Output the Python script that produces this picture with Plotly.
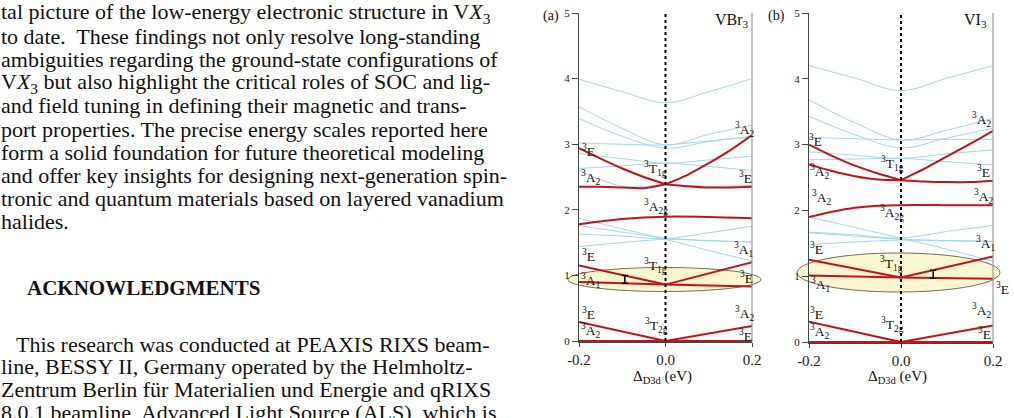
import plotly.graph_objects as go

W, H = 1014, 418

# ---------------- data ----------------
XS5 = [-0.2, -0.1, 0.0, 0.1, 0.2]
XL = [-0.2, -0.15, -0.1, -0.05, 0.0]
XR = [0.0, 0.05, 0.1, 0.15, 0.2]
X2L = [-0.2, 0.0]
X2R = [0.0, 0.2]
X2 = [-0.2, 0.2]
XA2G_B = [-0.2, -0.15, -0.1, -0.05, 0.0, 0.1, 0.2]

# VBr3 (panel a) red branches
vbr_ground = [0.0, 0.0]
vbr_t2g_left = [0.29, 0.0]
vbr_t2g_right = [0.0, 0.23]
vbr_t1g_left_E = [1.15, 0.86]
vbr_t1g_left_A1 = [0.90, 0.86]
vbr_t1g_right_A2 = [0.86, 1.20]
vbr_t1g_right_E = [0.86, 0.83]
vbr_a2g = [1.78, 1.86, 1.895, 1.89, 1.87]
vbr_t1g2_left_E = [2.94, 2.78, 2.63, 2.50, 2.39]
vbr_t1g2_left_A2 = [2.35, 2.35, 2.34, 2.33, 2.39]
vbr_t1g2_right_A2 = [2.39, 2.53, 2.71, 2.91, 3.14]
vbr_t1g2_right_E = [2.39, 2.36, 2.34, 2.34, 2.35]
# VBr3 other (light blue) levels
vbr_blue = [
    [3.99, 3.80, 3.63, 3.80, 4.00],
    [3.57, 3.24, 2.99, 3.15, 3.29],
    [3.39, 3.12, 2.94, 3.04, 3.12],
    [3.02, 3.00, 2.99, 3.05, 3.11],
    [2.86, 2.78, 2.71, 2.76, 2.82],
    [2.63, 2.67, 2.71, 2.66, 2.60],
    [2.60, 2.36, 2.38, 2.36, 2.37],
    [1.87, 1.71, 1.55, 1.38, 1.22],
    [1.76, 1.66, 1.57, 1.53, 1.51],
    [1.63, 1.60, 1.56, 1.65, 1.75],
    [1.44, 1.50, 1.55, 1.53, 1.51],
]
vbr_bar_x = -0.094
vbr_bar_lo, vbr_bar_hi = 0.88, 1.00

# VI3 (panel b) red branches
vi_ground = [0.0, 0.0]
vi_t2g_left = [0.31, 0.0]
vi_t2g_right = [0.0, 0.25]
vi_t1g_left_E = [1.25, 0.98]
vi_t1g_left_A1 = [1.01, 0.98]
vi_t1g_right_up = [0.98, 1.30]
vi_t1g_right_low = [0.98, 0.96]
vi_a2g = [1.90, 1.98, 2.04, 2.07, 2.08, 2.08, 2.08]
vi_t1g2_left_E = [3.00, 2.83, 2.68, 2.56, 2.46]
vi_t1g2_left_A2 = [2.70, 2.60, 2.52, 2.47, 2.46]
vi_t1g2_right_up = [2.46, 2.63, 2.82, 3.01, 3.21]
vi_t1g2_right_low = [2.46, 2.44, 2.43, 2.43, 2.45]
vi_blue = [
    [4.20, 4.01, 3.82, 4.01, 4.20],
    [3.68, 3.33, 3.07, 3.22, 3.40],
    [3.43, 3.15, 2.95, 3.10, 3.25],
    [3.11, 3.09, 3.07, 3.08, 3.08],
    [2.89, 2.84, 2.79, 2.86, 2.92],
    [2.77, 2.78, 2.79, 2.74, 2.69],
    [1.90, 1.74, 1.58, 1.41, 1.23],
    [1.67, 1.63, 1.58, 1.68, 1.77],
    [1.48, 1.52, 1.55, 1.54, 1.53],
    [1.66, 1.61, 1.56, 1.54, 1.53],
]
vi_bar_x = 0.07
vi_bar_lo, vi_bar_hi = 0.97, 1.09

x_tickvals = [-0.2, 0.0, 0.2]
x_ticktext = ["-0.2", "0.0", "0.2"]
y_tickvals = [0, 1, 2, 3, 4, 5]

body_lines_top = [
    "tal picture of the low-energy electronic structure in V<i>X</i><sub>3</sub>",
    "to date.  These findings not only resolve long-standing",
    "ambiguities regarding the ground-state configurations of",
    "V<i>X</i><sub>3</sub> but also highlight the critical roles of SOC and lig-",
    "and field tuning in defining their magnetic and trans-",
    "port properties. The precise energy scales reported here",
    "form a solid foundation for future theoretical modeling",
    "and offer key insights for designing next-generation spin-",
    "tronic and quantum materials based on layered vanadium",
    "halides.",
]
ack_title = "ACKNOWLEDGMENTS"
body_lines_ack = [
    "This research was conducted at PEAXIS RIXS beam-",
    "line, BESSY II, Germany operated by the Helmholtz-",
    "Zentrum Berlin für Materialien und Energie and qRIXS",
    "8.0.1 beamline, Advanced Light Source (ALS), which is",
]

# ---------------- style ----------------
RED = "#c0141c"
BLUE = "#a3d6e6"
SERIF = "Liberation Serif"
AX = "#444444"


def px(xp):
    return xp / W


def py(yp):
    return 1 - yp / H


fig = go.Figure()


def red(x, y, ax):
    fig.add_trace(go.Scatter(x=x, y=y, mode="lines", xaxis=ax[0], yaxis=ax[1],
                             line=dict(color=RED, width=2, shape="spline", smoothing=0.8),
                             hoverinfo="skip", showlegend=False))


def blue(x, y, ax):
    fig.add_trace(go.Scatter(x=x, y=y, mode="lines", xaxis=ax[0], yaxis=ax[1],
                             line=dict(color=BLUE, width=1, shape="spline", smoothing=1.0),
                             hoverinfo="skip", showlegend=False))


A = ("x", "y")
B = ("x2", "y2")

for ys in vbr_blue:
    blue(XS5, ys, A)
for ys in vi_blue:
    blue(XS5, ys, B)

red(X2, vbr_ground, A)
red(X2L, vbr_t2g_left, A)
red(X2R, vbr_t2g_right, A)
red(X2L, vbr_t1g_left_E, A)
red(X2L, vbr_t1g_left_A1, A)
red(X2R, vbr_t1g_right_A2, A)
red(X2R, vbr_t1g_right_E, A)
red(XS5, vbr_a2g, A)
red(XL, vbr_t1g2_left_E, A)
red(XL, vbr_t1g2_left_A2, A)
red(XR, vbr_t1g2_right_A2, A)
red(XR, vbr_t1g2_right_E, A)

red(X2, vi_ground, B)
red(X2L, vi_t2g_left, B)
red(X2R, vi_t2g_right, B)
red(X2L, vi_t1g_left_E, B)
red(X2L, vi_t1g_left_A1, B)
red(X2R, vi_t1g_right_up, B)
red(X2R, vi_t1g_right_low, B)
red(XA2G_B, vi_a2g, B)
red(XL, vi_t1g2_left_E, B)
red(XL, vi_t1g2_left_A2, B)
red(XR, vi_t1g2_right_up, B)
red(XR, vi_t1g2_right_low, B)

# dotted line at zero
for ax in (A, B):
    fig.add_trace(go.Scatter(x=[0, 0], y=[0, 5], mode="lines", xaxis=ax[0], yaxis=ax[1],
                             line=dict(color="black", width=2, dash="3px,3px"),
                             hoverinfo="skip", showlegend=False))

# splitting bars
for (bx, lo, hi), ax in (((vbr_bar_x, vbr_bar_lo, vbr_bar_hi), A), ((vi_bar_x, vi_bar_lo, vi_bar_hi), B)):
    mid = (lo + hi) / 2
    fig.add_trace(go.Scatter(x=[bx], y=[mid], mode="markers", xaxis=ax[0], yaxis=ax[1],
                             marker=dict(size=1, color="rgba(0,0,0,0)"),
                             error_y=dict(type="data", array=[hi - mid], color="black",
                                          thickness=1.5, width=3),
                             hoverinfo="skip", showlegend=False))

# ---------------- layout ----------------
PA = dict(x0=579, x1=752, yb=342, yt=13)
PB = dict(x0=809, x1=993, yb=343, yt=13)
YR = [-0.015, 5.0]

axcommon_x = dict(range=[-0.2, 0.2], showline=True, linecolor=AX, linewidth=1, ticks="outside",
                  ticklen=4, tickcolor=AX, tickvals=x_tickvals, ticktext=x_ticktext,
                  tickfont=dict(family=SERIF, size=15, color="#222"), showgrid=False,
                  zeroline=False, fixedrange=True)
axcommon_y = dict(range=YR, showline=True, linecolor=AX, linewidth=1, ticks="outside",
                  ticklen=6, tickcolor=AX, tickvals=y_tickvals,
                  tickfont=dict(family=SERIF, size=11, color="#222"), showgrid=False,
                  zeroline=False, fixedrange=True)

fig.update_layout(
    width=W, height=H, autosize=False,
    margin=dict(l=0, r=0, t=0, b=0, pad=0, autoexpand=False),
    paper_bgcolor="white", plot_bgcolor="rgba(0,0,0,0)",
    xaxis=dict(domain=[px(PA["x0"]), px(PA["x1"])], anchor="y", automargin=False, **axcommon_x),
    yaxis=dict(domain=[py(PA["yb"]), py(PA["yt"])], anchor="x", automargin=False, **axcommon_y),
    xaxis2=dict(domain=[px(PB["x0"]), px(PB["x1"])], anchor="y2", automargin=False, **axcommon_x),
    yaxis2=dict(domain=[py(PB["yb"]), py(PB["yt"])], anchor="x2", automargin=False, **axcommon_y),
)

shapes = []
for (ex0, ex1, ey0, ey1) in ((568, 761, 267.5, 291.5), (797, 1000, 253, 292)):
    shapes.append(dict(type="circle", xref="paper", yref="paper", layer="below",
                       x0=px(ex0), x1=px(ex1), y0=py(ey1), y1=py(ey0),
                       fillcolor="#fbf6d0", line=dict(color="#6f6f55", width=1)))
for P in (PA, PB):
    shapes.append(dict(type="line", xref="paper", yref="paper",
                       x0=px(P["x1"]), x1=px(P["x1"]), y0=py(P["yb"]), y1=py(P["yt"]),
                       line=dict(color="#9a9a9a", width=1.2)))
fig.update_layout(shapes=shapes)

ann = []


def txt(t, xp, yp, size=13, xanchor="center", yanchor="middle", family=SERIF, color="#111"):
    ann.append(dict(text=t, x=px(xp), y=py(yp), xref="paper", yref="paper",
                    xanchor=xanchor, yanchor=yanchor, showarrow=False, borderpad=0,
                    font=dict(family=family, size=size, color=color)))


# body text
for i, line in enumerate(body_lines_top):
    txt(line, 0, 13 + 23.2 * i, size=22, xanchor="left")
txt("<b>" + ack_title + "</b>", 26, 288, size=21, xanchor="left")
for i, line in enumerate(body_lines_ack):
    x0 = 15 if i == 0 else 0
    txt(line, x0, 344 + 22.8 * i, size=22, xanchor="left")

# panel labels
txt("(a)", 551, 16, size=14)
txt("(b)", 776, 16, size=14)
txt("VBr<sub>3</sub>", 732, 21, size=16)
txt("VI<sub>3</sub>", 975, 21, size=16)

# axis titles
txt("Δ<sub>D3d</sub> (eV)", 662, 377, size=15)
txt("Δ<sub>D3d</sub> (eV)", 897, 377, size=15)

E = "<sup>3</sup>E"
A2 = "<sup>3</sup>A<sub>2</sub>"
A1 = "<sup>3</sup>A<sub>1</sub>"
T1g = "<sup>3</sup>T<sub>1g</sub>"
T2g = "<sup>3</sup>T<sub>2g</sub>"
A2g = "<sup>3</sup>A<sub>2g</sub>"

labels_a = [
    (E, 588, 150), (A2, 590, 177), (T1g, 655, 169), (A2, 744, 129), (E, 745, 177),
    (A2g, 656, 206), (E, 588, 255), (A1, 743, 249), (T1g, 655, 265), (A1, 590, 280),
    (E, 746, 277), (E, 588, 313), (A2, 590, 330), (T2g, 656, 325), (A2, 744, 313),
    (E, 745, 335),
]
labels_b = [
    (E, 815, 140), (A2, 819, 172), (T1g, 892, 163), (A2, 981, 120), (E, 983, 171),
    (A2, 821, 198), (A2, 983, 196), (A2g, 892, 212), (E, 816, 248), (A1, 985, 243),
    (T1g, 891, 263), (A1, 820, 284), (E, 1002, 288), (E, 816, 313), (A2, 819, 331),
    (T2g, 892, 324), (A2, 981, 310), (E, 984, 333),
]
for t, x, y in labels_a + labels_b:
    txt(t, x, y, size=13.5)

fig.update_layout(annotations=ann)

fig.write_html("out.html")
